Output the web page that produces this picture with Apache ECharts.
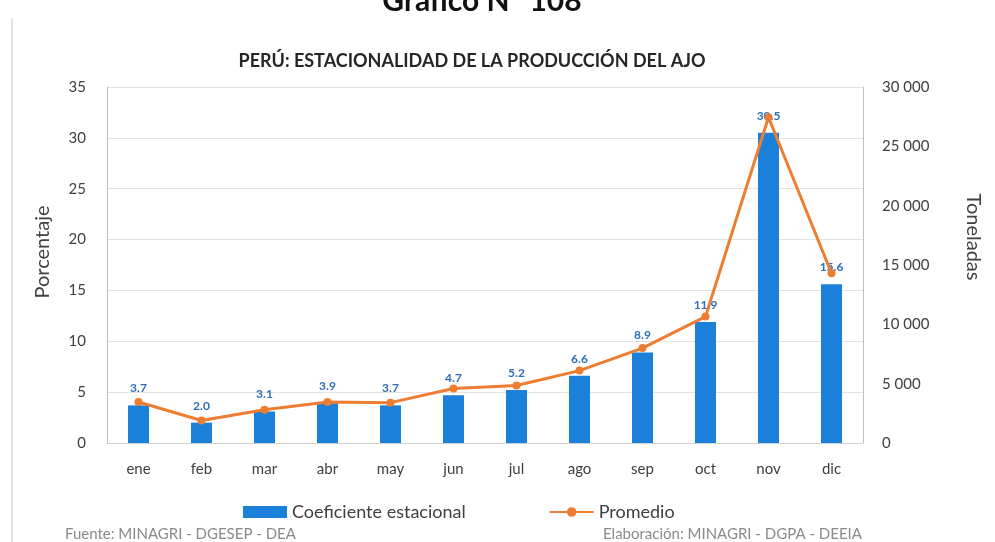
<!DOCTYPE html>
<html><head><meta charset="utf-8">
<script src="https://cdn.jsdelivr.net/npm/echarts@6/dist/echarts.min.js"></script>
<style>html,body{margin:0;padding:0;background:#fff;}#c{width:995px;height:542px;}</style>
</head><body><div id="c"></div>
<script>
const categories = ['ene','feb','mar','abr','may','jun','jul','ago','sep','oct','nov','dic'];
const coeficiente = [3.7, 2.0, 3.1, 3.9, 3.7, 4.7, 5.2, 6.6, 8.9, 11.9, 30.5, 15.6];
const promedio = [3450, 1900, 2800, 3450, 3400, 4600, 4850, 6100, 8000, 10650, 27450, 14300];
const leftTicks = [0, 5, 10, 15, 20, 25, 30, 35];
const rightTicks = [0, 5000, 10000, 15000, 20000, 25000, 30000];

const FONT = 'Lato';
const chart = echarts.init(document.getElementById('c'), null, {renderer: 'canvas'});
function fmtThousands(v){ return String(v).replace(/\B(?=(\d{3})+(?!\d))/g, ' '); }
chart.setOption({
  backgroundColor: '#ffffff',
  animation: false,
  textStyle: {fontFamily: FONT},
  title: {
    text: 'PERÚ: ESTACIONALIDAD DE LA PRODUCCIÓN DEL AJO',
    left: 467, top: 47, textAlign: 'center',
    textStyle: {fontFamily: FONT, fontSize: 18, fontWeight: 'bold', color: '#262626'}
  },
  graphic: [
    {type: 'text', x: 482, y: -14, style: {text: 'Gráfico N° 108', font: 'bold 30px Lato', fill: '#111', align: 'center'}},
    {type: 'line', shape: {x1: 12, y1: 18, x2: 12, y2: 542}, style: {stroke: '#c8c8c8', lineWidth: 1}},
    {type: 'text', x: 43, y: 252, rotation: Math.PI / 2, style: {text: 'Porcentaje', font: '20px Lato', fill: '#404040', align: 'center', verticalAlign: 'middle'}},
    {type: 'text', x: 973, y: 237, rotation: -Math.PI / 2, style: {text: 'Toneladas', font: '20px Lato', fill: '#404040', align: 'center', verticalAlign: 'middle'}},
    {type: 'text', x: 65, y: 534, style: {text: 'Fuente: MINAGRI - DGESEP - DEA', font: '15px Lato', fill: '#8a8a8a', verticalAlign: 'middle'}},
    {type: 'text', x: 603, y: 534, style: {text: 'Elaboración: MINAGRI - DGPA - DEEIA', font: '15px Lato', fill: '#8a8a8a', verticalAlign: 'middle'}}
  ],
  legend: {
    left: 238, top: 498,
    itemGap: 83, itemWidth: 44, itemHeight: 12,
    textStyle: {fontFamily: FONT, fontSize: 18, color: '#404040'},
    data: [
      {name: 'Coeficiente estacional', icon: 'rect'},
      {name: 'Promedio'}
    ]
  },
  grid: {left: 107, right: 132, top: 87, bottom: 99},
  xAxis: {
    type: 'category', data: categories,
    axisLine: {show: true, lineStyle: {color: '#d0d0d0'}},
    axisTick: {show: false},
    axisLabel: {fontFamily: FONT, fontSize: 15, color: '#404040', margin: 19}
  },
  yAxis: [
    {
      type: 'value', min: 0, max: 35, interval: 5,
      axisLine: {show: true, lineStyle: {color: '#bfbfbf'}},
      axisTick: {show: false},
      axisLabel: {fontFamily: FONT, fontSize: 15, color: '#404040', margin: 21},
      splitLine: {show: true, lineStyle: {color: '#e3e3e3'}}
    },
    {
      type: 'value', min: 0, max: 30000, interval: 5000,
      axisLine: {show: true, lineStyle: {color: '#bfbfbf'}},
      axisTick: {show: false},
      axisLabel: {fontFamily: FONT, fontSize: 15, color: '#404040', margin: 19, formatter: fmtThousands},
      splitLine: {show: false}
    }
  ],
  series: [
    {
      name: 'Coeficiente estacional', type: 'bar', yAxisIndex: 0,
      data: coeficiente, barWidth: 21,
      itemStyle: {color: '#1a80d9'},
      label: {
        show: true, position: 'top', distance: 11,
        formatter: p => p.value.toFixed(1),
        fontFamily: FONT, fontSize: 12, fontWeight: 'bold', color: '#2f6fb8'
      },
      z: 2
    },
    {
      name: 'Promedio', type: 'line', yAxisIndex: 1,
      data: promedio,
      symbol: 'circle', symbolSize: 8,
      lineStyle: {color: '#ed7d31', width: 3},
      itemStyle: {color: '#ed7d31'},
      z: 3
    }
  ]
});
</script></body></html>
